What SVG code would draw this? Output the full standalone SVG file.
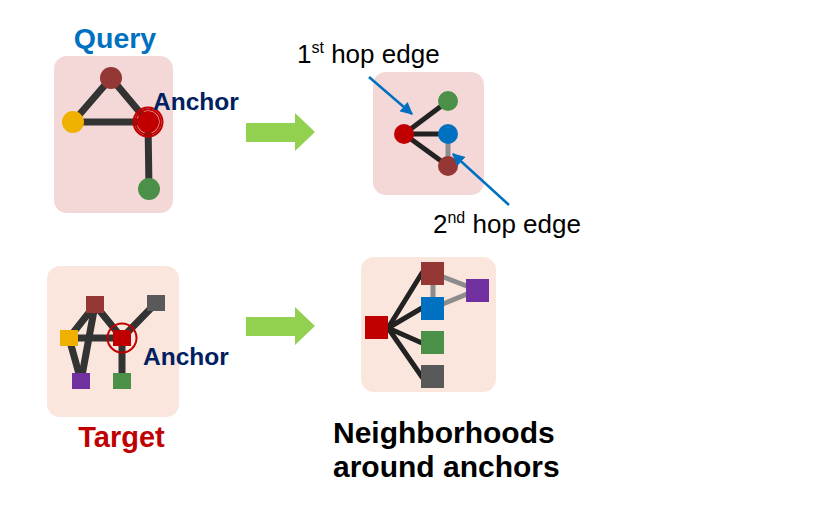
<svg xmlns="http://www.w3.org/2000/svg" width="840" height="505" viewBox="0 0 840 505">
<defs>
<style>
.bold{font-family:"Liberation Sans",Arial,sans-serif;font-weight:bold}
.reg{font-family:"Liberation Sans",Arial,sans-serif}
.e{stroke:#333333;stroke-width:7;stroke-linecap:round}
.e2{stroke:#222222;stroke-width:5;stroke-linecap:round}
.g2{stroke:#8c8c8c;stroke-width:5}
.qbox{fill:#f4d8d8}
.tbox{fill:#fae6dc}
.ga{fill:#92d050}
.ring{fill:none;stroke:#c00000;stroke-width:2}
.blue{stroke:#0070c0;stroke-width:2.5;fill:none}
</style>
<marker id="ah" viewBox="0 0 10 10" refX="9" refY="5" markerWidth="5" markerHeight="5" orient="auto" markerUnits="strokeWidth">
<path d="M0,0 L10,5 L0,10 z" fill="#0070c0"/>
</marker>
</defs>
<rect width="840" height="505" fill="#ffffff"/>

<g id="query">
<rect class="qbox" x="54" y="56" width="119" height="157" rx="13"/>
<g class="edges">
<line class="e" x1="111" y1="78" x2="73" y2="122"/>
<line class="e" x1="111" y1="78" x2="148" y2="122"/>
<line class="e" x1="73" y1="122" x2="148" y2="122"/>
<line class="e" x1="148" y1="122" x2="149" y2="189"/>
</g>
<circle cx="111" cy="78" r="11" fill="#953735"/>
<circle cx="73" cy="122" r="11" fill="#f0b000"/>
<circle cx="148" cy="122" r="11" fill="#c00000"/>
<circle class="ring" cx="148" cy="122" r="14.5"/>
<circle class="ring" cx="148" cy="122" r="12.5" stroke-width="1"/>
<circle cx="149" cy="189" r="11" fill="#4a9048"/>
</g>
<text class="bold" x="115" y="48" font-size="28.5" fill="#0070c0" text-anchor="middle">Query</text>
<text class="bold" x="153" y="110" font-size="24.5" fill="#002060">Anchor</text>

<g id="target">
<rect class="tbox" x="47" y="266" width="132" height="151" rx="13"/>
<g class="edges">
<line class="e" x1="95" y1="305" x2="69" y2="338"/>
<line class="e" x1="95" y1="305" x2="122" y2="338"/>
<line class="e" x1="95" y1="305" x2="81" y2="381"/>
<line class="e" x1="69" y1="338" x2="122" y2="338"/>
<line class="e" x1="69" y1="338" x2="81" y2="381"/>
<line class="e" x1="122" y1="338" x2="156" y2="303"/>
<line class="e" x1="122" y1="338" x2="122" y2="381"/>
</g>
<rect x="86" y="296" width="18" height="17" fill="#953735"/>
<rect x="60" y="330" width="18" height="16" fill="#f0b000"/>
<rect x="113" y="330" width="18" height="16" fill="#c00000"/>
<circle class="ring" cx="122" cy="338" r="14.5"/>
<rect x="147" y="295" width="18" height="16" fill="#595959"/>
<rect x="72" y="373" width="18" height="16" fill="#7030a0"/>
<rect x="113" y="373" width="18" height="16" fill="#4a9048"/>
</g>
<text class="bold" x="143" y="365" font-size="24.5" fill="#002060">Anchor</text>
<text class="bold" x="121.5" y="447" font-size="29" fill="#c00000" text-anchor="middle">Target</text>

<g id="arrow1">
<path class="ga" d="M246,123 H295 V113 L315,132 L295,151 V142 H246 Z"/>
</g>
<g id="arrow2">
<path class="ga" d="M246,317 H295 V307 L315,326 L295,345 V336 H246 Z"/>
</g>

<g id="query-neighborhood">
<rect class="qbox" x="373" y="72" width="111" height="123" rx="13"/>
<g class="edges">
<line class="e2" x1="404" y1="134" x2="448" y2="101"/>
<line class="e2" x1="404" y1="134" x2="448" y2="134"/>
<line class="e2" x1="404" y1="134" x2="448" y2="166"/>
<line class="g2" x1="448" y1="134" x2="448" y2="166"/>
</g>
<circle cx="404" cy="134" r="10" fill="#c00000"/>
<circle cx="448" cy="101" r="10" fill="#4a9048"/>
<circle cx="448" cy="134" r="10" fill="#0070c0"/>
<circle cx="448" cy="166" r="10" fill="#953735"/>
</g>

<g id="target-neighborhood">
<rect class="tbox" x="361" y="257" width="135" height="135" rx="13"/>
<g class="edges">
<line class="g2" x1="433" y1="273" x2="433" y2="308"/>
<line class="g2" x1="433" y1="273" x2="477" y2="290"/>
<line class="g2" x1="433" y1="308" x2="477" y2="290"/>
<line class="e2" x1="388" y1="328" x2="422" y2="273"/>
<line class="e2" x1="388" y1="328" x2="422" y2="308"/>
<line class="e2" x1="388" y1="328" x2="422" y2="343"/>
<line class="e2" x1="388" y1="328" x2="422" y2="377"/>
</g>
<rect x="365" y="316" width="23" height="23" fill="#c00000"/>
<rect x="421" y="262" width="23" height="23" fill="#953735"/>
<rect x="421" y="297" width="23" height="23" fill="#0070c0"/>
<rect x="421" y="331" width="23" height="23" fill="#4a9048"/>
<rect x="421" y="365" width="23" height="23" fill="#595959"/>
<rect x="466" y="279" width="23" height="23" fill="#7030a0"/>
</g>

<g id="connectors">
<line class="blue" x1="369" y1="77" x2="412" y2="114" marker-end="url(#ah)"/>
<line class="blue" x1="509" y1="205" x2="453" y2="154" marker-end="url(#ah)"/>
</g>

<text class="reg" x="297" y="63" font-size="26" fill="#000000">1<tspan font-size="16" dy="-10">st</tspan><tspan dy="10"> hop edge</tspan></text>
<text class="reg" x="433" y="233" font-size="26" fill="#000000">2<tspan font-size="16" dy="-10">nd</tspan><tspan dy="10"> hop edge</tspan></text>

<text class="bold" x="333" y="443" font-size="30" fill="#000000">Neighborhoods</text>
<text class="bold" x="333" y="477" font-size="30" fill="#000000">around anchors</text>
</svg>
